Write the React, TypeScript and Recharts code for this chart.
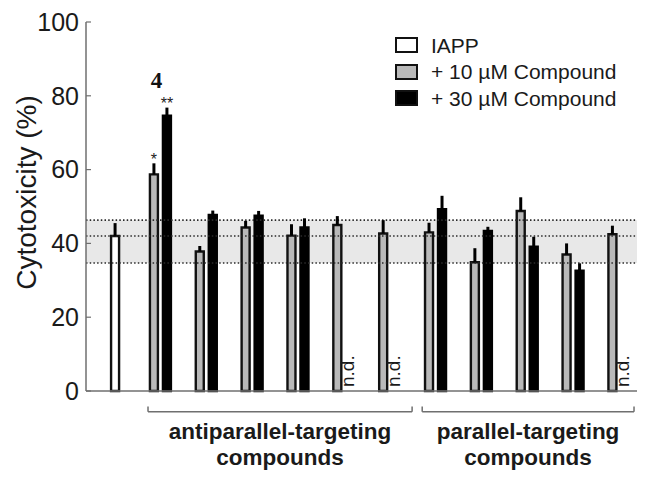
import React from 'react';
import { BarChart, Bar, XAxis, YAxis, ErrorBar, ReferenceArea, ReferenceLine, LabelList, Legend } from 'recharts';

const FONT = '"Liberation Sans", Arial, sans-serif';

// one slot per sample: IAPP alone, then the 11 compounds
const compoundNames = ['IAPP', '4', '', '', '', '', '', '', '', '', '', ''];
const iappValues = [42.0, null, null, null, null, null, null, null, null, null, null, null];
const iappErrors = [3.5, null, null, null, null, null, null, null, null, null, null, null];
const lowDoseValues = [null, 58.7, 37.8, 44.3, 42.1, 45.0, 42.7, 43.0, 34.9, 48.8, 37.0, 42.5];
const lowDoseErrors = [null, 3.0, 1.5, 1.8, 3.1, 2.4, 3.6, 2.6, 3.8, 3.7, 3.0, 2.3];
const highDoseValues = [null, 74.6, 47.7, 47.5, 44.3, null, null, 49.3, 43.4, 39.1, 32.6, null];
const highDoseErrors = [null, 2.2, 1.2, 1.3, 2.5, null, null, 3.6, 1.1, 2.7, 2.0, null];
const lowDoseStars = ['', '*', '', '', '', '', '', '', '', '', '', ''];
const highDoseStars = ['', '**', '', '', '', '', '', '', '', '', '', ''];
const notDetermined = [5, 6, 11];

const seriesNames = ['IAPP', '+ 10 µM Compound', '+ 30 µM Compound'];
const seriesFills = ['#ffffff', '#b9b9b9', '#000000'];

const yTicks = [0, 20, 40, 60, 80, 100];
const iappBand = { low: 34.7, mean: 42.0, high: 46.3 };

const groupLabels = [
  ['antiparallel-targeting', 'compounds'],
  ['parallel-targeting', 'compounds'],
];
const groupSpans = [
  [0.72, 6.48],
  [6.7, 11.32],
];
const groupCenters = groupSpans.map(([a, b]) => (a + b) / 2);

const xDomain = [-0.6325, 11.385];

const data = compoundNames.map((name, i) => ({
  pos: i,
  name,
  iapp: iappValues[i],
  iappErr: iappErrors[i] == null ? null : [0, iappErrors[i]],
  low: lowDoseValues[i],
  lowErr: lowDoseErrors[i] == null ? null : [0, lowDoseErrors[i]],
  lowStar: lowDoseStars[i],
  high: highDoseValues[i],
  highErr: highDoseErrors[i] == null ? null : [0, highDoseErrors[i]],
  highStar: highDoseStars[i],
}));

const YLabel = (p: any) => {
  const vb = p.viewBox || {};
  const cx = 26;
  const cy = (vb.y ?? 22) + (vb.height ?? 369) / 2 - 14;
  return (
    <text x={cx} y={cy} transform={`rotate(-90 ${cx} ${cy})`} textAnchor="middle" dominantBaseline="central"
      fontFamily={FONT} fontSize={28} fill="#1a1a1a">
      Cytotoxicity (%)
    </text>
  );
};

// bottom axis ticks: "n.d." marks sit on the axis, group captions below the brackets
const BottomTick = (props: any) => {
  const { x, y, payload } = props;
  if (notDetermined.includes(payload.value)) {
    const tx = x + 9.5;
    const ty = y - 4;
    return (
      <text x={tx} y={ty} transform={`rotate(-90 ${tx} ${ty})`} fontFamily={FONT} fontSize={19} fill="#1a1a1a">
        n.d.
      </text>
    );
  }
  const idx = groupCenters.indexOf(payload.value);
  const lines = groupLabels[idx] || [];
  return (
    <g>
      {lines.map((l, k) => (
        <text key={k} x={x} y={y + 47.5 + k * 26} textAnchor="middle" fontFamily={FONT} fontWeight="bold" fontSize={22.5} fill="#1a1a1a">
          {l}
        </text>
      ))}
    </g>
  );
};

const StarLabel = (dy: number) => (p: any) => {
  if (!p.value) return null;
  return (
    <text x={p.x + p.width / 2} y={p.y - dy} textAnchor="middle" fontFamily={FONT} fontSize={16} fill="#222">{p.value}</text>
  );
};

const NameLabel = (p: any) => {
  if (!p.value || p.value === 'IAPP') return null;
  return (
    <text x={p.x + p.width / 2 - 10.5} y={p.y - 27.4} textAnchor="middle" fontFamily='"Liberation Serif", "Times New Roman", serif'
      fontWeight="bold" fontSize={23} fill="#111">
      {p.value}
    </text>
  );
};

const LegendBox = () => (
  <div style={{ fontFamily: FONT, fontSize: 21, color: '#1a1a1a', lineHeight: 1 }}>
    {seriesNames.map((n, i) => (
      <div key={n} style={{ display: 'flex', alignItems: 'center', height: 26.5 }}>
        <span style={{ display: 'inline-block', width: 19, height: 12, border: '2.5px solid #111', background: seriesFills[i], marginRight: 13 }} />
        <span>{n}</span>
      </div>
    ))}
  </div>
);

export default function App() {
  return (
    <div style={{ position: 'absolute', left: 0, top: 0, background: '#fff' }}>
      <BarChart width={650} height={481} data={data} margin={{ top: 22, right: 13, left: 0, bottom: 0 }} barGap={5}>
        <XAxis xAxisId="grp" dataKey="pos" type="number" domain={xDomain} allowDataOverflow
          ticks={[...notDetermined, ...groupCenters]}
          height={90} axisLine={{ stroke: '#6f6f6f', strokeWidth: 1.5 }} tickLine={false} tickSize={0} tickMargin={0}
          tick={<BottomTick />} interval={0} />
        <XAxis xAxisId="top" dataKey="pos" type="number" domain={xDomain} allowDataOverflow orientation="top" height={0}
          tick={false} tickLine={false} axisLine={{ stroke: '#6f6f6f', strokeWidth: 1.5 }} />
        <XAxis xAxisId="a" dataKey="pos" type="number" domain={xDomain} allowDataOverflow hide height={0} />
        <XAxis xAxisId="b" dataKey="pos" type="number" domain={xDomain} allowDataOverflow hide height={0} />
        <YAxis domain={[0, 100]} ticks={yTicks} width={86} tickSize={-5} tickMargin={12}
          axisLine={{ stroke: '#6f6f6f', strokeWidth: 1.5 }} tickLine={{ stroke: '#6f6f6f', strokeWidth: 1.2 }}
          tick={{ fontFamily: FONT, fontSize: 25, fill: '#1a1a1a' }} label={YLabel} />
        <YAxis yAxisId="r" orientation="right" width={0} tick={false} tickLine={false}
          axisLine={{ stroke: '#6f6f6f', strokeWidth: 1.5 }} />
        <Legend layout="vertical" align="center" verticalAlign="middle" content={<LegendBox />}
          wrapperStyle={{ left: 395, top: 32, width: 'auto', height: 'auto' }} />

        <ReferenceArea xAxisId="grp" y1={iappBand.low} y2={iappBand.high} fill="#e8e8e8" fillOpacity={1} stroke="none" />
        {[iappBand.high, iappBand.mean, iappBand.low].map((v) => (
          <ReferenceLine key={v} xAxisId="grp" y={v} stroke="#2a2a2a" strokeWidth={1.6} strokeDasharray="1.5 2.2" />
        ))}
        {groupSpans.map(([a, b], k) => (
          <React.Fragment key={k}>
            <ReferenceLine xAxisId="grp" ifOverflow="visible" stroke="#6f6f6f" strokeWidth={1.5}
              segment={[{ x: a, y: -5.6 }, { x: b, y: -5.6 }]} />
            <ReferenceLine xAxisId="grp" ifOverflow="visible" stroke="#6f6f6f" strokeWidth={1.5}
              segment={[{ x: a, y: -5.6 }, { x: a, y: -4.2 }]} />
            <ReferenceLine xAxisId="grp" ifOverflow="visible" stroke="#6f6f6f" strokeWidth={1.5}
              segment={[{ x: b, y: -5.6 }, { x: b, y: -4.2 }]} />
          </React.Fragment>
        ))}

        <Bar xAxisId="a" dataKey="iapp" name={seriesNames[0]} fill={seriesFills[0]} stroke="#111" strokeWidth={2.4}
          barSize={8} isAnimationActive={false}>
          <ErrorBar dataKey="iappErr" width={0} stroke="#000" strokeWidth={3} direction="y" />
        </Bar>
        <Bar xAxisId="b" dataKey="low" name={seriesNames[1]} fill={seriesFills[1]} stroke="#111" strokeWidth={2.4}
          barSize={8} isAnimationActive={false}>
          <ErrorBar dataKey="lowErr" width={0} stroke="#000" strokeWidth={3} direction="y" />
          <LabelList dataKey="lowStar" content={StarLabel(9.7)} />
        </Bar>
        <Bar xAxisId="b" dataKey="high" name={seriesNames[2]} fill={seriesFills[2]} stroke="#000" strokeWidth={2.4}
          barSize={8} isAnimationActive={false}>
          <ErrorBar dataKey="highErr" width={0} stroke="#000" strokeWidth={3} direction="y" />
          <LabelList dataKey="highStar" content={StarLabel(7)} />
          <LabelList dataKey="name" content={NameLabel} />
        </Bar>
      </BarChart>
    </div>
  );
}
